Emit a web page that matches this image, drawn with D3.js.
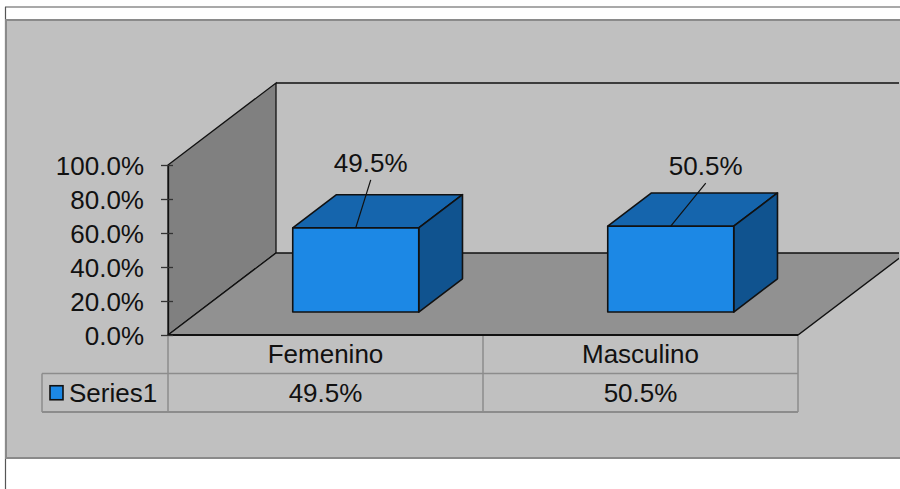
<!DOCTYPE html>
<html>
<head>
<meta charset="utf-8">
<script src="https://cdnjs.cloudflare.com/ajax/libs/d3/7.8.5/d3.min.js"></script>
<style>
  body { margin: 0; background: #fff; }
  svg { display: block; font-family: "Liberation Sans", Arial, sans-serif; }
</style>
</head>
<body>
<svg id="chart" width="900" height="489"></svg>
<script>
// data
const categories = ["Femenino", "Masculino"];
const values = [0.495, 0.505];
const seriesName = "Series1";
const yTicks = [0, 0.2, 0.4, 0.6, 0.8, 1.0];

// label nudges (px from the top centre of the bar front), as placed in the sheet
const labelNudge = [[15, -65], [35, -60]];

var svg = d3.select("#chart"),
    fmt = d3.format(".1%"),
    fontSize = 26;

// 3d frame
var x0 = 168, x1 = 798,      // front edge of the floor
    depthX = 108, depthY = -82, // full depth offset
    barD0 = 0.28, barD1 = 0.685; // bar depth, as share of full depth

var x = d3.scaleBand().domain(categories).range([x0, x1]).paddingInner(0).paddingOuter(0),
    y = d3.scaleLinear().domain([0, 1]).range([335, 165]);

function P(px, v, d) { return [px + d * depthX, y(v) + d * depthY]; }
function poly(pts) { return "M" + pts.map(function(p) { return p.join(","); }).join("L") + "Z"; }

// outer frame
svg.append("line").attr("x1", 5).attr("x2", 900).attr("y1", 7).attr("y2", 7)
  .attr("stroke", "#555").attr("stroke-width", 1.2);
svg.append("line").attr("x1", 5.5).attr("x2", 5.5).attr("y1", 7).attr("y2", 489)
  .attr("stroke", "#555").attr("stroke-width", 1.2);
svg.append("rect").attr("x", 6).attr("y", 20).attr("width", 900).attr("height", 438)
  .attr("fill", "#c0c0c0").attr("stroke", "#8a8a8a").attr("stroke-width", 2);

var plot = svg.append("g");
plot.append("clipPath").attr("id", "clip").append("rect")
  .attr("x", 0).attr("y", 21).attr("width", 899).attr("height", 436);
var g = plot.append("g").attr("clip-path", "url(#clip)");

// back wall
g.append("path")
  .attr("d", poly([P(x0, 1, 1), [1000, y(1) + depthY], [1000, y(0) + depthY], P(x0, 0, 1)]))
  .attr("fill", "#c0c0c0").attr("stroke", "none");
g.append("line").attr("x1", P(x0, 1, 1)[0]).attr("y1", P(x0, 1, 1)[1])
  .attr("x2", 1000).attr("y2", P(x0, 1, 1)[1]).attr("stroke", "#111").attr("stroke-width", 1.5);

// side wall
g.append("path")
  .attr("d", poly([P(x0, 1, 0), P(x0, 1, 1), P(x0, 0, 1), P(x0, 0, 0)]))
  .attr("fill", "#808080").attr("stroke", "#111").attr("stroke-width", 1.3);

// floor
g.append("path")
  .attr("d", poly([P(x0, 0, 0), P(x1, 0, 0), P(x1, 0, 1), P(x0, 0, 1)]))
  .attr("fill", "#919191").attr("stroke", "#111").attr("stroke-width", 1.3);
g.append("line").attr("x1", x0).attr("x2", x1).attr("y1", y(0)).attr("y2", y(0))
  .attr("stroke", "#111").attr("stroke-width", 2.2);

// bars
var bw = x.bandwidth() * 0.4;
var bars = g.selectAll(".bar").data(categories.map(function(c, i) { return { c: c, v: values[i], i: i }; }))
  .enter().append("g").attr("class", "bar");

bars.each(function(d) {
  var b = d3.select(this),
      l = x(d.c) + (x.bandwidth() - bw) / 2,
      r = l + bw;
  // top
  b.append("path")
    .attr("d", poly([P(l, d.v, barD0), P(r, d.v, barD0), P(r, d.v, barD1), P(l, d.v, barD1)]))
    .attr("fill", "#1565ad").attr("stroke", "#111").attr("stroke-width", 1.6).attr("stroke-linejoin", "round");
  // side
  b.append("path")
    .attr("d", poly([P(r, d.v, barD0), P(r, d.v, barD1), P(r, 0, barD1), P(r, 0, barD0)]))
    .attr("fill", "#10538f").attr("stroke", "#111").attr("stroke-width", 1.6).attr("stroke-linejoin", "round");
  // front
  b.append("path")
    .attr("d", poly([P(l, d.v, barD0), P(r, d.v, barD0), P(r, 0, barD0), P(l, 0, barD0)]))
    .attr("fill", "#1c88e5").attr("stroke", "#111").attr("stroke-width", 1.6).attr("stroke-linejoin", "round");
});

// axis
var axis = svg.append("g").attr("transform", "translate(" + x0 + ",0)")
  .call(d3.axisLeft(y).tickValues(yTicks).tickFormat(fmt).tickSizeInner(7).tickSizeOuter(0).tickPadding(17));
axis.select(".domain").attr("stroke", "#111").attr("stroke-width", 1.3);
axis.selectAll(".tick line").attr("stroke", "#333").attr("stroke-width", 1.3)
  .attr("x1", 5);
axis.selectAll(".tick text").attr("font-size", fontSize).attr("fill", "#111")
  .attr("font-family", "Liberation Sans, Arial, sans-serif").attr("dy", "0.38em");

// data labels with leader lines
bars.each(function(d) {
  var cx = x(d.c) + x.bandwidth() / 2,
      top = P(cx, d.v, barD0),
      lx = top[0] + labelNudge[d.i][0],
      ly = top[1] + labelNudge[d.i][1];
  svg.append("line").attr("x1", top[0]).attr("y1", top[1])
    .attr("x2", lx).attr("y2", ly + 17).attr("stroke", "#111").attr("stroke-width", 1.2);
  svg.append("text").attr("x", lx).attr("y", ly).attr("dy", "0.35em")
    .attr("text-anchor", "middle").attr("font-size", fontSize).attr("fill", "#111")
    .text(fmt(d.v));
});

// data table
var rowH = 38.5,
    r0 = y(0), r1 = r0 + rowH, r2 = r1 + rowH,
    legL = 42, grid = "#8c8c8c";
var t = svg.append("g");
t.append("line").attr("x1", legL).attr("x2", x1).attr("y1", r1).attr("y2", r1).attr("stroke", grid).attr("stroke-width", 1.5);
t.append("line").attr("x1", legL).attr("x2", x1).attr("y1", r2).attr("y2", r2).attr("stroke", grid).attr("stroke-width", 1.8);
t.append("line").attr("x1", legL).attr("x2", legL).attr("y1", r1).attr("y2", r2).attr("stroke", grid).attr("stroke-width", 1.5);
t.selectAll(".vline").data(categories.concat(["end"])).enter().append("line")
  .attr("x1", function(c) { return c === "end" ? x1 : x(c); })
  .attr("x2", function(c) { return c === "end" ? x1 : x(c); })
  .attr("y1", r0 + 1).attr("y2", r2).attr("stroke", grid).attr("stroke-width", 1.5);

t.selectAll(".cat").data(categories).enter().append("text")
  .attr("x", function(c) { return x(c) + x.bandwidth() / 2; })
  .attr("y", (r0 + r1) / 2).attr("dy", "0.35em")
  .attr("text-anchor", "middle").attr("font-size", fontSize).attr("fill", "#111")
  .text(function(c) { return c; });
t.selectAll(".val").data(values).enter().append("text")
  .attr("x", function(v, i) { return x(categories[i]) + x.bandwidth() / 2; })
  .attr("y", (r1 + r2) / 2).attr("dy", "0.35em")
  .attr("text-anchor", "middle").attr("font-size", fontSize).attr("fill", "#111")
  .text(function(v) { return fmt(v); });

// legend key
t.append("rect").attr("x", 50).attr("y", (r1 + r2) / 2 - 7).attr("width", 13).attr("height", 14)
  .attr("fill", "#1c88e5").attr("stroke", "#111").attr("stroke-width", 1.6);
t.append("text").attr("x", 69).attr("y", (r1 + r2) / 2).attr("dy", "0.35em")
  .attr("font-size", fontSize).attr("fill", "#111").text(seriesName);
</script>
</body>
</html>
